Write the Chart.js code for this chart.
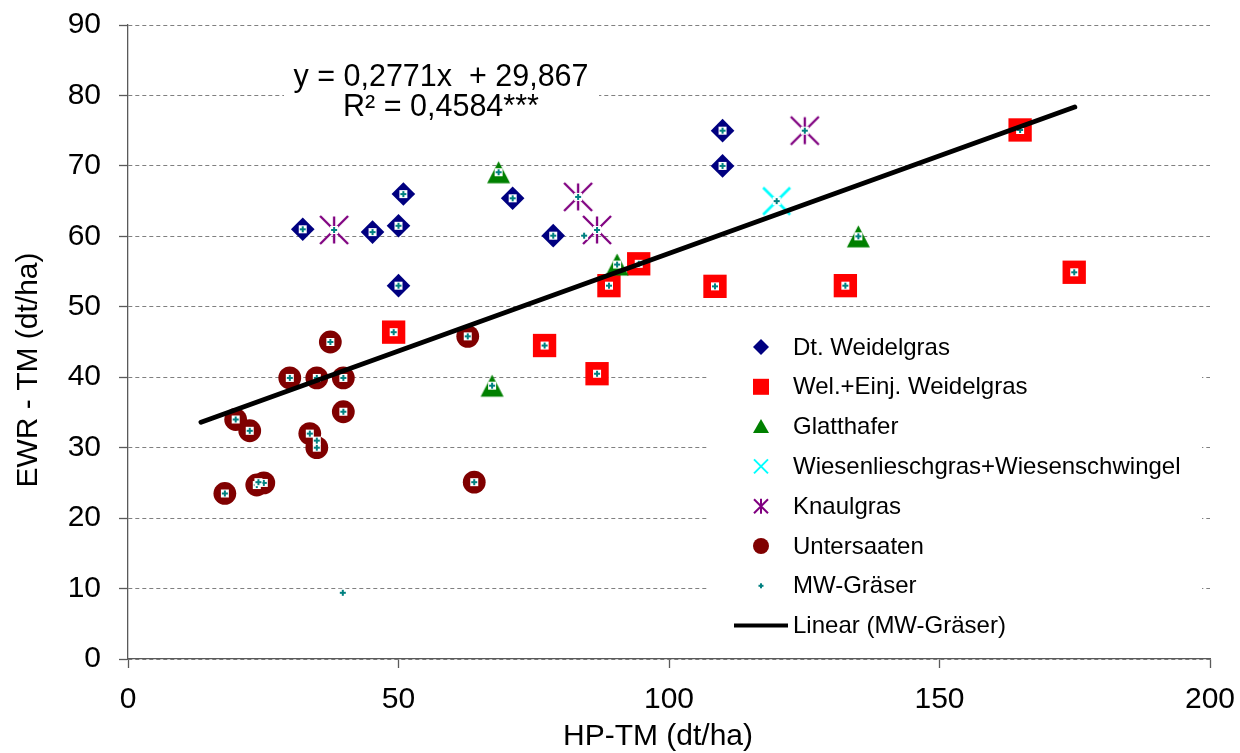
<!DOCTYPE html>
<html>
<head>
<meta charset="utf-8">
<script src="https://cdn.jsdelivr.net/npm/chart.js@4/dist/chart.umd.min.js"></script>
<style>
  html, body { margin: 0; padding: 0; background: #ffffff; }
  #wrap { width: 1240px; height: 753px; }
</style>
</head>
<body>
<div id="wrap"><canvas id="chart" width="1240" height="753"></canvas></div>
<script>
// HP-TM (x) against EWR-TM (y), dt/ha, per grass group
const dtWeidelgrasX = [32.3, 45.2, 50.0, 50.0, 50.9, 71.1, 78.6, 109.9, 109.9];
const dtWeidelgrasY = [61.0, 60.6, 61.5, 53.0, 66.0, 65.4, 60.1, 75.0, 70.0];

const welEinjX = [49.1, 77.0, 86.7, 88.9, 94.4, 108.5, 132.6, 164.9, 174.9];
const welEinjY = [46.4, 44.5, 40.5, 53.0, 56.1, 52.9, 53.0, 75.1, 54.9];

const glatthaferX = [67.3, 68.5, 90.4, 135.0];
const glatthaferY = [38.8, 69.1, 56.0, 60.0];

const wiesenX = [119.9];
const wiesenY = [65.0];

const knaulgrasX = [38.1, 83.2, 86.7, 125.1];
const knaulgrasY = [60.9, 65.6, 60.9, 75.0];

const untersaatenX = [17.9, 19.9, 22.5, 23.8, 25.1, 29.9, 33.6, 34.9, 34.9, 37.4, 39.8, 39.8, 62.8, 64.0];
const untersaatenY = [23.5, 34.0, 32.4, 24.7, 25.0, 39.9, 32.0, 30.0, 39.9, 45.0, 39.9, 35.1, 45.8, 25.1];

// mean values not covered by the group markers above
const mwExtraX = [39.7, 84.3, 34.9, 24.1];
const mwExtraY = [9.4, 60.1, 31.0, 25.1];

// linear trend of MW-Gräser, y = slope * x + intercept
const trendSlope = 0.2771;
const trendIntercept = 29.867;
const trendRangeX = [13.5, 175];
const trendLabel = ['y = 0,2771x  + 29,867', 'R\u00B2 = 0,4584***'];

const xTicks = [0, 50, 100, 150, 200];
const yTicks = [0, 10, 20, 30, 40, 50, 60, 70, 80, 90];
const xTitle = 'HP-TM (dt/ha)';
const yTitle = 'EWR - TM (dt/ha)';

const seriesNames = ['Dt. Weidelgras', 'Wel.+Einj. Weidelgras', 'Glatthafer',
  'Wiesenlieschgras+Wiesenschwingel', 'Knaulgras', 'Untersaaten', 'MW-Gr\u00E4ser',
  'Linear (MW-Gr\u00E4ser)'];

const FONT = '"Liberation Sans", Arial, sans-serif';

function pts(xs, ys) { return xs.map((x, i) => ({ x: x, y: ys[i] })); }

function glyph(size, draw) {
  const c = document.createElement('canvas');
  c.width = size; c.height = size;
  const g = c.getContext('2d');
  g.translate(size / 2, size / 2);
  draw(g);
  return c;
}

// asterisk marker: vertical bar plus a diagonal cross
function starGlyph(v, d, lw) {
  return glyph(Math.ceil(2 * Math.max(v, d) + 4), g => {
    g.strokeStyle = '#800080'; g.lineWidth = lw; g.lineCap = 'butt';
    g.beginPath();
    g.moveTo(0, -v); g.lineTo(0, v);
    g.moveTo(-d, -d); g.lineTo(d, d);
    g.moveTo(-d, d); g.lineTo(d, -d);
    g.stroke();
  });
}
function crossGlyph(d, lw) {
  return glyph(Math.ceil(2 * d + 4), g => {
    g.strokeStyle = '#00FFFF'; g.lineWidth = lw;
    g.beginPath();
    g.moveTo(-d, -d); g.lineTo(d, d);
    g.moveTo(-d, d); g.lineTo(d, -d);
    g.stroke();
  });
}
function plusGlyph(box, arm, lw) {
  return glyph(12, g => {
    if (box > 0) { g.fillStyle = '#ffffff'; g.fillRect(-box / 2, -box / 2, box, box); }
    g.fillStyle = '#008080';
    g.fillRect(-arm, -lw / 2, 2 * arm, lw);
    g.fillRect(-lw / 2, -arm, lw, 2 * arm);
  });
}
function triGlyph(w, h) {
  return glyph(Math.ceil(Math.max(w, h) + 4), g => {
    g.fillStyle = '#008000';
    g.beginPath();
    g.moveTo(0, -h / 2); g.lineTo(w / 2, h / 2); g.lineTo(-w / 2, h / 2);
    g.closePath(); g.fill();
  });
}

const starMark = starGlyph(13.5, 14, 2.3);
const crossMark = crossGlyph(13.5, 2.7);
const plusMark = plusGlyph(8, 3, 2);
const triMark = triGlyph(23, 22);

const datasets = [
  { label: seriesNames[0], data: pts(dtWeidelgrasX, dtWeidelgrasY), pointStyle: 'rectRot',
    pointRadius: 11.8, backgroundColor: '#000080', borderColor: '#000080', borderWidth: 0, order: 8 },
  { label: seriesNames[1], data: pts(welEinjX, welEinjY), pointStyle: 'rect',
    pointRadius: 16.5, backgroundColor: '#FF0000', borderColor: '#FF0000', borderWidth: 0, order: 7 },
  { label: seriesNames[2], data: pts(glatthaferX, glatthaferY), pointStyle: triMark,
    backgroundColor: '#008000', borderColor: '#008000', order: 6 },
  { label: seriesNames[3], data: pts(wiesenX, wiesenY), pointStyle: crossMark,
    backgroundColor: '#00FFFF', borderColor: '#00FFFF', order: 5 },
  { label: seriesNames[4], data: pts(knaulgrasX, knaulgrasY), pointStyle: starMark,
    backgroundColor: '#800080', borderColor: '#800080', order: 4 },
  { label: seriesNames[5], data: pts(untersaatenX, untersaatenY), pointStyle: 'circle',
    pointRadius: 11.4, backgroundColor: '#800000', borderColor: '#800000', borderWidth: 0, order: 3 },
  { label: seriesNames[6],
    data: pts(
      [].concat(dtWeidelgrasX, welEinjX, glatthaferX, wiesenX, knaulgrasX, untersaatenX, mwExtraX),
      [].concat(dtWeidelgrasY, welEinjY, glatthaferY, wiesenY, knaulgrasY, untersaatenY, mwExtraY)),
    pointStyle: plusMark, backgroundColor: '#008080', borderColor: '#008080', order: 2 },
  { label: seriesNames[7], type: 'line',
    data: trendRangeX.map(x => ({ x: x, y: trendSlope * x + trendIntercept })),
    borderColor: '#000000', borderWidth: 5, borderCapStyle: 'round', pointRadius: 0,
    fill: false, tension: 0, order: 1 }
];

// legend entries (marker styles drawn in the legend box)
const legendMarks = [
  g => { g.fillStyle = '#000080'; g.beginPath(); g.moveTo(0, -8); g.lineTo(8, 0); g.lineTo(0, 8); g.lineTo(-8, 0); g.closePath(); g.fill(); },
  g => { g.fillStyle = '#FF0000'; g.fillRect(-8, -8, 16, 16); },
  g => { g.fillStyle = '#008000'; g.beginPath(); g.moveTo(0, -7.5); g.lineTo(8, 6.5); g.lineTo(-8, 6.5); g.closePath(); g.fill(); },
  g => { g.strokeStyle = '#00FFFF'; g.lineWidth = 2; g.beginPath(); g.moveTo(-7, -7); g.lineTo(7, 7); g.moveTo(-7, 7); g.lineTo(7, -7); g.stroke(); },
  g => { g.strokeStyle = '#800080'; g.lineWidth = 2; g.beginPath(); g.moveTo(0, -7.5); g.lineTo(0, 7.5); g.moveTo(-7, -7); g.lineTo(7, 7); g.moveTo(-7, 7); g.lineTo(7, -7); g.stroke(); },
  g => { g.fillStyle = '#800000'; g.beginPath(); g.arc(0, 0, 8, 0, Math.PI * 2); g.fill(); },
  g => { g.fillStyle = '#008080'; g.fillRect(-2.5, -1, 5, 2); g.fillRect(-1, -2.5, 2, 5); },
  g => { g.strokeStyle = '#000000'; g.lineWidth = 4; g.beginPath(); g.moveTo(-27, 0); g.lineTo(27, 0); g.stroke(); }
];

const boxesPlugin = {
  id: 'boxes',
  beforeDatasetsDraw(chart) {
    const ctx = chart.ctx;
    ctx.save();
    // trend equation with white backing
    ctx.fillStyle = '#ffffff';
    ctx.fillRect(284, 58, 315, 70);
    ctx.fillStyle = '#000000';
    ctx.font = '30.5px ' + FONT;
    ctx.textAlign = 'center';
    ctx.textBaseline = 'middle';
    ctx.fillText(trendLabel[0], 441, 78);
    ctx.fillText(trendLabel[1], 441, 108);

    // legend box
    ctx.fillStyle = '#ffffff';
    ctx.fillRect(708, 325, 494, 322);
    ctx.font = '24px ' + FONT;
    ctx.textAlign = 'left';
    ctx.fillStyle = '#000000';
    seriesNames.forEach((name, i) => {
      const cy = 347 + i * 39.8;
      ctx.save();
      ctx.translate(761, cy);
      legendMarks[i](ctx);
      ctx.restore();
      ctx.fillStyle = '#000000';
      ctx.fillText(name, 793, cy + 1);
    });
    ctx.restore();
  },
  afterDraw(chart) {
    // axis titles
    const ctx = chart.ctx;
    ctx.save();
    ctx.fillStyle = '#000000';
    ctx.font = '30px ' + FONT;
    ctx.textAlign = 'center';
    ctx.textBaseline = 'middle';
    ctx.fillText(xTitle, 658, 737);
    ctx.translate(29, 370);
    ctx.rotate(-Math.PI / 2);
    ctx.fillText(yTitle, 0, 0);
    ctx.restore();
  }
};

new Chart(document.getElementById('chart'), {
  type: 'scatter',
  data: { datasets: datasets },
  plugins: [boxesPlugin],
  options: {
    responsive: false,
    animation: false,
    devicePixelRatio: 1,
    events: [],
    layout: { padding: { top: 25, right: 30, bottom: 0, left: 0 } },
    plugins: { legend: { display: false }, tooltip: { enabled: false } },
    scales: {
      x: {
        type: 'linear', min: 0, max: 200,
        afterBuildTicks: s => { s.ticks = xTicks.map(v => ({ value: v })); },
        afterFit: s => { s.height = 94; s.paddingLeft = 0; s.paddingRight = 0; },
        ticks: { color: '#000000', font: { family: FONT, size: 30 }, padding: 14, maxRotation: 0 },
        grid: { drawOnChartArea: false, drawTicks: true, tickLength: 9, tickColor: '#5a5a5a', tickWidth: 1.3 },
        border: { display: true, color: '#5a5a5a', width: 1.3 },
        title: { display: false }
      },
      y: {
        type: 'linear', min: 0, max: 90,
        afterBuildTicks: s => { s.ticks = yTicks.map(v => ({ value: v })); },
        afterFit: s => { s.width = 128; s.paddingTop = 0; s.paddingBottom = 0; },
        ticks: { color: '#000000', font: { family: FONT, size: 30 }, padding: 18 },
        grid: { drawOnChartArea: true, color: '#808080', lineWidth: 1, tickLength: 9,
                tickColor: '#5a5a5a', tickWidth: 1.3, tickBorderDash: [] },
        border: { display: true, color: '#5a5a5a', width: 1.3, dash: [4, 3] },
        title: { display: false }
      }
    }
  }
});
</script>
</body>
</html>
